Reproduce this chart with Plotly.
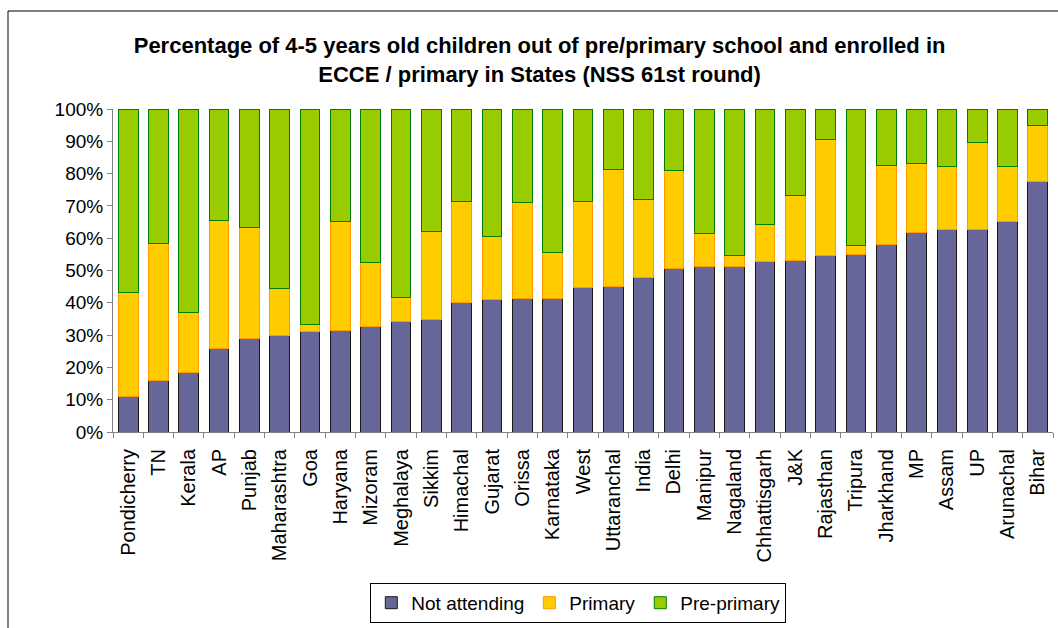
import plotly.graph_objects as go

states = ["Pondicherry", "TN", "Kerala", "AP", "Punjab", "Maharashtra", "Goa", "Haryana",
          "Mizoram", "Meghalaya", "Sikkim", "Himachal", "Gujarat", "Orissa", "Karnataka",
          "West", "Uttaranchal", "India", "Delhi", "Manipur", "Nagaland", "Chhattisgarh",
          "J&K", "Rajasthan", "Tripura", "Jharkhand", "MP", "Assam", "UP", "Arunachal", "Bihar"]

not_attending = [11.1, 15.9, 18.5, 25.8, 29.0, 30.0, 31.1, 31.3, 32.7, 34.1, 34.9, 40.2, 40.9,
                 41.2, 41.3, 44.6, 45.1, 47.9, 50.7, 51.1, 51.3, 52.7, 53.1, 54.5, 55.0, 57.9,
                 61.9, 62.6, 62.8, 65.3, 77.5]
cum_primary = [43.2, 58.5, 37.0, 65.6, 63.2, 44.4, 33.3, 65.3, 52.6, 41.7, 62.0, 71.5, 60.4,
               71.2, 55.6, 71.4, 81.3, 72.0, 80.9, 61.6, 54.5, 64.1, 73.2, 90.5, 57.7, 82.6,
               83.0, 82.2, 89.5, 82.2, 94.9]

y_ticks = list(range(0, 101, 10))
y_tick_labels = [f"{v}%" for v in y_ticks]

primary = [round(c - n, 1) for c, n in zip(cum_primary, not_attending)]
pre_primary = [round(100 - c, 1) for c in cum_primary]

fig = go.Figure()
fig.add_trace(go.Bar(x=states, y=not_attending, name="Not attending",
                     marker=dict(color="#666699", line=dict(color="#1a1a1a", width=1))))
fig.add_trace(go.Bar(x=states, y=primary, name="Primary",
                     marker=dict(color="#FFCC00", line=dict(color="#FF9900", width=1))))
fig.add_trace(go.Bar(x=states, y=pre_primary, name="Pre-primary",
                     marker=dict(color="#99CC00", line=dict(color="#008000", width=1))))

font_family = "Liberation Sans, Arial, sans-serif"
fig.update_layout(
    barmode="stack",
    bargap=0.35,
    width=1058, height=628,
    margin=dict(l=113, r=5, t=109, b=196),
    paper_bgcolor="white", plot_bgcolor="white",
    font=dict(family=font_family, color="black", size=20),
    title=dict(text="<b>Percentage of 4-5 years old children out of pre/primary school and enrolled in<br>ECCE / primary in States (NSS 61st round)</b>",
               x=0.51, xanchor="center", y=0.915, yanchor="middle",
               font=dict(size=22, family=font_family)),
    legend=dict(orientation="h", x=0.495, xanchor="center", y=-0.529, yanchor="middle",
                bordercolor="black", borderwidth=1, font=dict(size=19),
                traceorder="normal", itemwidth=30, tracegroupgap=0),
    xaxis=dict(tickangle=-90, showline=True, linecolor="#808080", ticks="outside",
               tickson="boundaries", ticklen=5, tickcolor="#808080",
               tickfont=dict(size=20), ticklabelstandoff=8),
    yaxis=dict(range=[0, 100], tickmode="array", tickvals=y_ticks, ticktext=y_tick_labels,
               showline=True, linecolor="#808080", ticks="outside", ticklen=5,
               tickcolor="#808080", showgrid=False, zeroline=False,
               tickfont=dict(size=19)),
    shapes=[dict(type="rect", xref="paper", yref="paper",
                 x0=-0.1117, x1=1.05, y0=-0.7, y1=1.3034,
                 line=dict(color="black", width=1))],
)

fig.write_html("out.html")
